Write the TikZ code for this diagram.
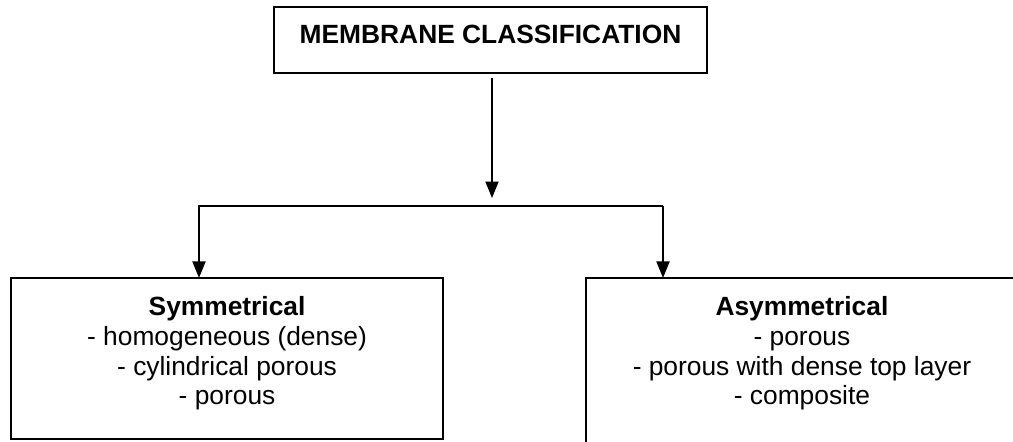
\documentclass[tikz,border=0pt]{standalone}
\usepackage{fontspec}
\setmainfont{Liberation Sans}
\usetikzlibrary{positioning,arrows.meta}

\begin{document}
\begin{tikzpicture}[x=0.02cm,y=-0.02cm,node distance=4.1cm,every node/.style={font=\fontsize{15}{17}\selectfont},box/.style={draw,line width=1.1pt,inner sep=0pt,outer sep=0pt,align=center},link/.style={-{Triangle[length=0.33cm,width=0.26cm]},line width=1.1pt}]
        \path[use as bounding box,clip] (0,0) rectangle (1013,441);
        \node[box,minimum width=8.66cm,text height=0.72cm,text depth=0.6cm] (membrane) at (490.5,40) {\textbf{MEMBRANE CLASSIFICATION}};
        \node[box,minimum width=8.64cm,text height=2.54cm,text depth=0.68cm,below=of membrane,xshift=-5.27cm] (sym) {\textbf{Symmetrical}\\- homogeneous (dense)\\- cylindrical porous\\- porous};
        \node[box,minimum width=8.64cm,text height=2.54cm,text depth=1cm,below=of membrane,xshift=6.23cm] (asym) {\textbf{Asymmetrical}\\- porous\\- porous with dense top layer\\- composite};
        \coordinate (hub) at (492,198);
        \coordinate (barL) at (199,206);
        \coordinate (barR) at (663,206);
        \draw[link,shorten <=0.1cm] (membrane.south -| hub)--(hub);
        \draw[link] (barR)--(barL)--(barL |- sym.north);
        \draw[link] (barR)--(barR |- asym.north);
      \end{tikzpicture}
\end{document}
